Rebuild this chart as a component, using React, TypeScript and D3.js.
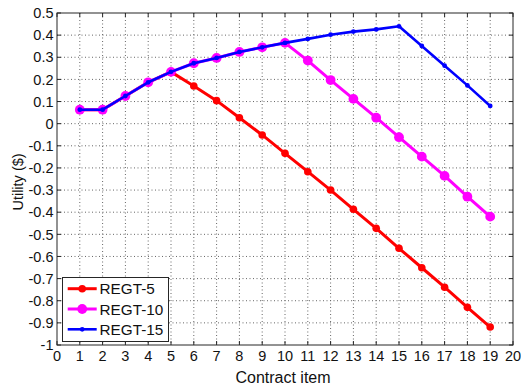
import React from "react";
import * as d3 from "d3";

const items = [1, 2, 3, 4, 5, 6, 7, 8, 9, 10, 11, 12, 13, 14, 15, 16, 17, 18, 19];
const regt5 = [0.063, 0.063, 0.125, 0.187, 0.234, 0.170, 0.104, 0.027, -0.051, -0.134, -0.217, -0.300, -0.387, -0.473, -0.563, -0.651, -0.739, -0.830, -0.919];
const regt10 = [0.063, 0.063, 0.125, 0.187, 0.234, 0.273, 0.297, 0.324, 0.345, 0.365, 0.285, 0.197, 0.112, 0.027, -0.061, -0.149, -0.236, -0.330, -0.420];
const regt15 = [0.063, 0.063, 0.125, 0.187, 0.234, 0.273, 0.297, 0.324, 0.345, 0.365, 0.383, 0.402, 0.416, 0.426, 0.440, 0.351, 0.262, 0.173, 0.080];
const seriesNames = ["REGT-5", "REGT-10", "REGT-15"];
const xTicks = d3.range(0, 21, 1);
const yTicks = d3.range(-10, 6, 1).map((v) => v / 10);

const W = 521, H = 388;
const L = 57, R = 513, T = 13, B = 345;

export default function App() {
  const x = d3.scaleLinear().domain([0, 20]).range([L, R]);
  const y = d3.scaleLinear().domain([-1, 0.5]).range([B, T]);
  const line = d3.line<number>().x((_, i) => x(items[i])).y((d) => y(d));
  const series = [
    { name: seriesNames[0], data: regt5, color: "#ff0000", lw: 3, r: 3.8 },
    { name: seriesNames[1], data: regt10, color: "#ff00ff", lw: 3, r: 4.9 },
    { name: seriesNames[2], data: regt15, color: "#0000ff", lw: 2.6, r: 2.4 },
  ];
  const font = "Arial, 'Liberation Sans', sans-serif";
  const fmt = (v: number) => (Math.abs(v) < 1e-9 ? "0" : Number.isInteger(v) ? String(v) : String(+v.toFixed(1)));
  const legX = 62.5, legY = 277.5, legW = 106, legH = 64;
  const legRows = [288.7, 309, 329.3];
  return (
    <svg width={W} height={H} style={{ position: "absolute", left: 0, top: 0, background: "#fff" }} fontFamily={font}>
      <rect x={0} y={0} width={W} height={H} fill="#fff" />
      {xTicks.slice(1, -1).map((t) => (
        <line key={"gx" + t} x1={x(t)} x2={x(t)} y1={T} y2={B} stroke="#666" strokeWidth={1} strokeDasharray="1 2.5" />
      ))}
      {yTicks.slice(1, -1).map((t) => (
        <line key={"gy" + t} x1={L} x2={R} y1={y(t)} y2={y(t)} stroke="#666" strokeWidth={1} strokeDasharray="1 2.5" />
      ))}
      {series.map((s) => (
        <g key={s.name}>
          <path d={line(s.data) || ""} fill="none" stroke={s.color} strokeWidth={s.lw} strokeLinejoin="round" />
          {s.data.map((v, i) => (
            <circle key={i} cx={x(items[i])} cy={y(v)} r={s.r} fill={s.color} />
          ))}
        </g>
      ))}
      <rect x={L} y={T} width={R - L} height={B - T} fill="none" stroke="#262626" strokeWidth={1} />
      {xTicks.map((t) => (
        <g key={"tx" + t}>
          <line x1={x(t)} x2={x(t)} y1={B} y2={B - 4} stroke="#262626" />
          <line x1={x(t)} x2={x(t)} y1={T} y2={T + 4} stroke="#262626" />
          <text x={x(t)} y={360.5} fontSize={14.5} textAnchor="middle" fill="#111">{fmt(t)}</text>
        </g>
      ))}
      {yTicks.map((t) => (
        <g key={"ty" + t}>
          <line x1={L} x2={L + 4} y1={y(t)} y2={y(t)} stroke="#262626" />
          <line x1={R} x2={R - 4} y1={y(t)} y2={y(t)} stroke="#262626" />
          <text x={53.5} y={y(t) + 5.2} fontSize={14.5} textAnchor="end" fill="#111">{fmt(t)}</text>
        </g>
      ))}
      <text x={(L + R) / 2 - 2} y={383} fontSize={16} textAnchor="middle" fill="#111">Contract item</text>
      <text transform={`translate(23, 182) rotate(-90)`} fontSize={14.5} textAnchor="middle" fill="#111">Utility ($)</text>
      <rect x={legX} y={legY} width={legW} height={legH} fill="#fff" stroke="#262626" strokeWidth={1} />
      {series.map((s, i) => (
        <g key={"lg" + s.name}>
          <line x1={67.7} x2={96.7} y1={legRows[i]} y2={legRows[i]} stroke={s.color} strokeWidth={s.lw} />
          <circle cx={82.2} cy={legRows[i]} r={s.r} fill={s.color} />
          <text x={99.5} y={legRows[i] + 5.5} fontSize={15.3} fill="#111">{s.name}</text>
        </g>
      ))}
    </svg>
  );
}
